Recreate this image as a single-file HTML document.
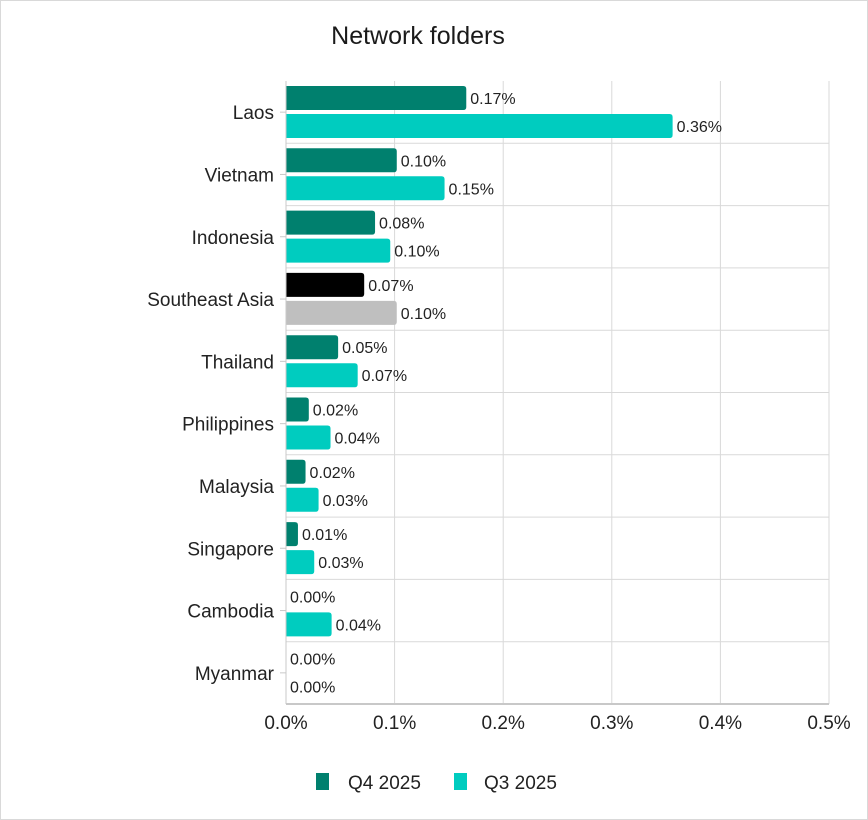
<!DOCTYPE html>
<html><head><meta charset="utf-8"><style>
body{margin:0;background:#fff}
svg{display:block;font-family:"Liberation Sans",sans-serif}
</style></head><body>
<svg width="868" height="820">
<rect x="0.5" y="0.5" width="867" height="819" fill="#fff" stroke="#d9d9d9"/>
<text x="418" y="44" text-anchor="middle" font-size="25" fill="#1a1a1a">Network folders</text>
<g id="grid"></g><g id="bars"></g><g id="axes"></g>
<g>
<rect x="316" y="773" width="13" height="17" fill="#00806e"/>
<text x="348" y="789" font-size="19" fill="#222">Q4 2025</text>
<rect x="454" y="773" width="13" height="17" fill="#00ccbf"/>
<text x="484" y="789" font-size="19" fill="#222">Q3 2025</text>
</g>
</svg>
<script>
const categories=["Laos","Vietnam","Indonesia","Southeast Asia","Thailand","Philippines","Malaysia","Singapore","Cambodia","Myanmar"];
const q4Values=[0.166,0.102,0.082,0.072,0.048,0.021,0.018,0.011,0.0,0.0];
const q3Values=[0.356,0.146,0.096,0.102,0.066,0.041,0.030,0.026,0.042,0.0];
const xTicks=[0,0.1,0.2,0.3,0.4,0.5];
const X0=286,X1=829,XMAX=0.5,TOP=81,BOT=704;
const NS="http://www.w3.org/2000/svg";
const band=(BOT-TOP)/categories.length;
const x=v=>X0+(v/XMAX)*(X1-X0);
function mk(t,a,p){const e=document.createElementNS(NS,t);for(const k in a)e.setAttribute(k,a[k]);p.appendChild(e);return e;}
const grid=document.getElementById('grid'),bars=document.getElementById('bars'),axes=document.getElementById('axes');
xTicks.forEach((t,i)=>{
 const g=mk('line',{x1:x(t),x2:x(t),y1:TOP,y2:BOT,stroke:'#d9d9d9'},grid);
 
 
 const l=mk('text',{x:x(t),y:729,'text-anchor':'middle','font-size':19,fill:'#222'},axes);
 l.textContent=t.toFixed(1)+'%';
 
 
});
for(let i=1;i<categories.length;i++){
 const g=mk('line',{x1:X0,x2:X1,y1:TOP+i*band,y2:TOP+i*band,stroke:'#d9d9d9'},grid);
 
 
}
const ax=mk('line',{x1:X0,x2:X1,y1:BOT,y2:BOT,stroke:'#c8c8c8','stroke-width':2},axes);


const ay=mk('line',{x1:X0,x2:X0,y1:TOP,y2:BOT,stroke:'#c8c8c8'},axes);


function bar(v,y,fill,name){
 const w=Math.max(x(v)-X0,0.01),r=Math.min(3,w/2),h=24;
 const d=`M${X0},${y}H${X0+w-r}Q${X0+w},${y} ${X0+w},${y+r}V${y+h-r}Q${X0+w},${y+h} ${X0+w-r},${y+h}H${X0}Z`;
 const p=mk('path',{d:d,fill:fill},bars);
 
 
 const t=mk('text',{x:x(v)+4,y:y+18,'font-size':16,fill:'#222'},bars);
 t.textContent=(Math.round(v*100)/100).toFixed(2)+'%';
 
 
}
categories.forEach((c,i)=>{
 const y0=TOP+i*band;
 const sea=c==="Southeast Asia";
 const slug=c.toLowerCase().replace(/ /g,'-');
 bar(q4Values[i],y0+5,sea?'#000':'#00806e','bar-q4-'+slug);
 bar(q3Values[i],y0+33,sea?'#bfbfbf':'#00ccbf','bar-q3-'+slug);
 const l=mk('text',{x:274,y:y0+band/2+7,'text-anchor':'end','font-size':19,fill:'#222'},axes);
 l.textContent=c;
 
 
 const tk=mk('line',{x1:X0-6,x2:X0,y1:y0+band/2,y2:y0+band/2,stroke:'#c8c8c8'},axes);
 
 
});
</script>
</body></html>
